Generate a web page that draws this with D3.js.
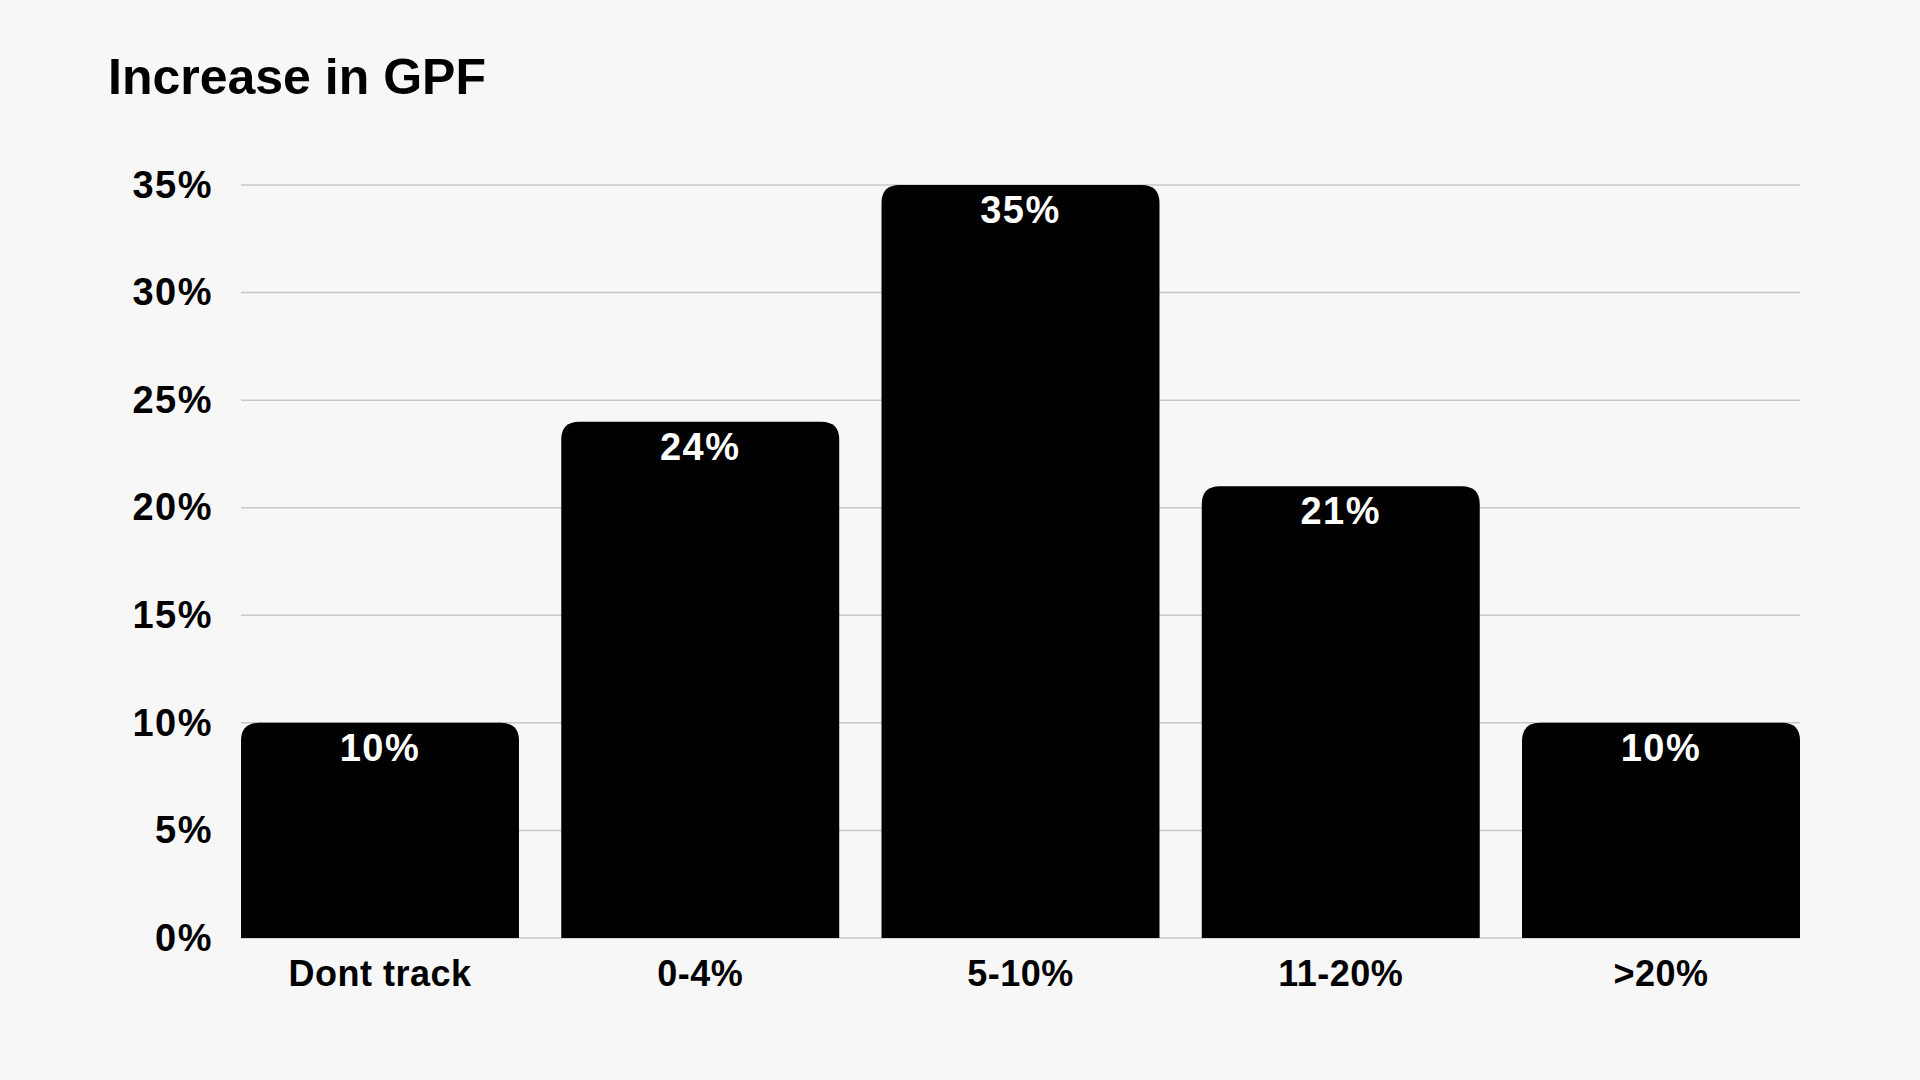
<!DOCTYPE html>
<html>
<head>
<meta charset="utf-8">
<script src="https://cdn.jsdelivr.net/npm/d3@7"></script>
<style>
  html, body { margin: 0; padding: 0; background: #f7f7f7; }
  svg { display: block; font-family: "Liberation Sans", Arial, sans-serif; }
</style>
</head>
<body>
<div id="chart"></div>
<script>
var categories = ["Dont track", "0-4%", "5-10%", "11-20%", ">20%"];
var values = [10, 24, 35, 21, 10];
var yTicks = [0, 5, 10, 15, 20, 25, 30, 35];

var width = 1920, height = 1080;
var margin = {top: 185, right: 120, bottom: 142, left: 241};

var svg = d3.select("#chart").append("svg")
    .attr("width", width)
    .attr("height", height);

svg.append("rect")
    .attr("width", width)
    .attr("height", height)
    .attr("fill", "#f7f7f7");

svg.append("text")
    .attr("x", 108)
    .attr("y", 94)
    .attr("font-size", 50)
    .attr("font-weight", "bold")
    .attr("fill", "#000")
    .text("Increase in GPF");

var x = d3.scaleBand()
    .domain(categories)
    .range([margin.left, width - margin.right])
    .paddingInner(0.132)
    .paddingOuter(0);

var y = d3.scaleLinear()
    .domain([0, 35])
    .range([height - margin.bottom, margin.top]);

// grid
svg.append("g")
    .selectAll("line")
    .data(yTicks)
    .join("line")
    .attr("x1", margin.left)
    .attr("x2", width - margin.right)
    .attr("y1", d => y(d))
    .attr("y2", d => y(d))
    .attr("stroke", "#c8c8c8")
    .attr("stroke-width", 1.5);

// y labels
var yAxis = d3.axisLeft(y)
    .tickValues(yTicks)
    .tickFormat(d => d + "%")
    .tickSize(0)
    .tickPadding(28);

var gy = svg.append("g")
    .attr("transform", "translate(" + margin.left + ",0)")
    .call(yAxis);
gy.select(".domain").remove();
gy.selectAll("text")
    .attr("font-size", 38)
    .attr("font-weight", "bold")
    .attr("letter-spacing", 1.5)
    .attr("fill", "#000")
    .attr("font-family", "Liberation Sans, Arial, sans-serif");

// bars with rounded top corners
var r = 18;
function barPath(d, i) {
    var x0 = x(categories[i]), w = x.bandwidth();
    var y0 = y(0), y1 = y(d);
    return "M" + x0 + "," + y0 +
        "V" + (y1 + r) +
        "Q" + x0 + "," + y1 + " " + (x0 + r) + "," + y1 +
        "H" + (x0 + w - r) +
        "Q" + (x0 + w) + "," + y1 + " " + (x0 + w) + "," + (y1 + r) +
        "V" + y0 + "Z";
}

svg.append("g")
    .selectAll("path")
    .data(values)
    .join("path")
    .attr("d", barPath)
    .attr("fill", "#000");

// value labels
svg.append("g")
    .selectAll("text")
    .data(values)
    .join("text")
    .attr("x", (d, i) => x(categories[i]) + x.bandwidth() / 2)
    .attr("y", d => y(d) + 38)
    .attr("text-anchor", "middle")
    .attr("font-size", 38)
    .attr("font-weight", "bold")
    .attr("letter-spacing", 1.5)
    .attr("fill", "#fff")
    .text(d => d + "%");

// x labels
var xAxis = d3.axisBottom(x).tickSize(0).tickPadding(22);
var gx = svg.append("g")
    .attr("transform", "translate(0," + y(0) + ")")
    .call(xAxis);
gx.select(".domain").remove();
gx.selectAll("text")
    .attr("font-size", 36)
    .attr("font-weight", "bold")
    .attr("letter-spacing", 0.5)
    .attr("fill", "#000")
    .attr("font-family", "Liberation Sans, Arial, sans-serif");
</script>
</body>
</html>
